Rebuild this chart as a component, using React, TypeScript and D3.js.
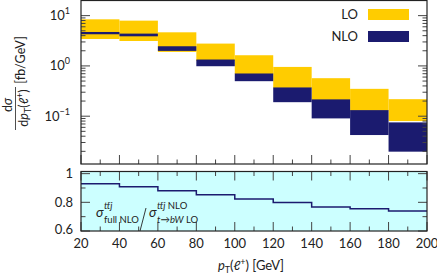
import React from 'react'
import * as d3 from 'd3'

// bin edges in pT (GeV)
const binEdges = [20, 40, 60, 80, 100, 120, 140, 160, 180, 200]
// LO band (upper / lower), fb/GeV
const loHigh = [8.45, 7.95, 4.66, 2.78, 1.63, 0.955, 0.57, 0.35, 0.218]
const loLow = [3.43, 3.13, 1.9, 1.25, 0.69, 0.365, 0.21, 0.128, 0.08]
// NLO band (upper / lower), fb/GeV
const nloHigh = [4.73, 4.39, 2.46, 1.34, 0.707, 0.373, 0.216, 0.132, 0.0753]
const nloLow = [4.26, 3.88, 1.99, 0.986, 0.497, 0.19, 0.0904, 0.0422, 0.0197]
// ratio in lower panel
const ratio = [0.93, 0.909, 0.881, 0.853, 0.823, 0.798, 0.768, 0.756, 0.74]

const xTicks = [20, 40, 60, 80, 100, 120, 140, 160, 180, 200]
const ratioTicks = [0.6, 0.8, 1]

const YELLOW = '#ffcc00'
const NAVY = '#1b1b6f'
const CYAN = '#ccffff'
const FONT = 'Lato, "DejaVu Sans", sans-serif'

export default function App() {
  const left = 81, right = 427
  const topY0 = 0.5, topY1 = 164
  const botY0 = 171.5, botY1 = 231

  const x = d3.scaleLinear().domain([20, 200]).range([left, right])
  const yTop = d3.scaleLog().domain([0.0112, 20]).range([topY1, topY0])
  const yBot = d3.scaleLinear().domain([0.6, 1.015]).range([botY1, botY0])

  // log ticks
  const logTicks: { v: number; major: boolean }[] = []
  for (let e = -2; e <= 1; e++) {
    for (let m = 1; m <= 9; m++) {
      const v = m * Math.pow(10, e)
      if (v >= 0.0112 && v <= 20) logTicks.push({ v, major: m === 1 })
    }
  }
  const xMinor = d3.range(30, 200, 20)

  const ratioPts = binEdges.map((e, i) => [e, ratio[Math.min(i, ratio.length - 1)]] as [number, number])
  const ratioLine = d3.line<[number, number]>()
    .x(d => x(d[0]))
    .y(d => yBot(d[1]))
    .curve(d3.curveStepAfter)

  const tickColor = '#444'

  return (
    <svg width={437} height={273} style={{ position: 'fixed', left: 0, top: 0 }} fontFamily={FONT}>
      <rect width={437} height={273} fill="#fff" />

      {/* upper panel: LO band then NLO band */}
      {loHigh.map((h, i) => (
        <rect key={'lo' + i} x={x(binEdges[i])} width={x(binEdges[i + 1]) - x(binEdges[i])}
          y={yTop(h)} height={yTop(loLow[i]) - yTop(h)} fill={YELLOW} />
      ))}
      {nloHigh.map((h, i) => (
        <rect key={'nlo' + i} x={x(binEdges[i])} width={x(binEdges[i + 1]) - x(binEdges[i])}
          y={yTop(h)} height={yTop(nloLow[i]) - yTop(h)} fill={NAVY} />
      ))}

      {/* log ticks left and right */}
      {logTicks.map((t, i) => {
        const y = yTop(t.v)
        const len = t.major ? 9 : 4.5
        return (
          <g key={'lt' + i} stroke={tickColor} strokeWidth={1}>
            <line x1={left} x2={left + len} y1={y} y2={y} />
            <line x1={right} x2={right - len} y1={y} y2={y} />
          </g>
        )
      })}
      {[1, 0, -1].map(e => (
        <text key={'ll' + e} x={70} y={yTop(Math.pow(10, e)) + 4.5} textAnchor="end" fontSize={13} fill="#222">
          10<tspan dy={-6} fontSize={9}>{e === -1 ? '\u22121' : e}</tspan>
        </text>
      ))}

      {/* x ticks on upper panel bottom */}
      {xTicks.map(v => (
        <line key={'xt' + v} x1={x(v)} x2={x(v)} y1={topY1} y2={topY1 - 9} stroke={tickColor} />
      ))}
      {xMinor.map(v => (
        <line key={'xm' + v} x1={x(v)} x2={x(v)} y1={topY1} y2={topY1 - 4.5} stroke={tickColor} />
      ))}

      <rect x={left} y={topY0} width={right - left} height={topY1 - topY0} fill="none" stroke="#222" strokeWidth={1.2} />

      {/* legend */}
      <text x={358} y={19} textAnchor="end" fontSize={13} fill="#222">LO</text>
      <rect x={368} y={9} width={41} height={11} fill={YELLOW} />
      <text x={358} y={40.5} textAnchor="end" fontSize={13} fill="#222">NLO</text>
      <rect x={368} y={31} width={41} height={11} fill={NAVY} />

      {/* y axis title */}
      <g transform="rotate(-90)" fill="#222">
        <text x={-105} y={12} textAnchor="middle" fontSize={12.5}>
          d<tspan fontStyle="italic">σ</tspan>
        </text>
        <line x1={-87} x2={-130} y1={15.5} y2={15.5} stroke="#222" strokeWidth={0.8} />
        <text x={-108} y={28} textAnchor="middle" fontSize={12.5}>
          d<tspan fontStyle="italic">p</tspan><tspan fontSize={9} dy={2.5}>T</tspan><tspan dy={-2.5}>(</tspan><tspan fontStyle="italic">ℓ</tspan><tspan fontSize={9} dy={-5}>+</tspan><tspan dy={5}>)</tspan>
        </text>
        <text x={-60} y={25} textAnchor="middle" fontSize={12.5}>[fb/GeV]</text>
      </g>

      {/* lower panel */}
      <rect x={left} y={botY0} width={right - left} height={botY1 - botY0} fill={CYAN} />
      <path d={ratioLine(ratioPts) || ''} fill="none" stroke={NAVY} strokeWidth={1.5} />

      {d3.range(0.6, 1.01, 0.1).map((v, i) => {
        const y = yBot(v)
        const len = i % 2 === 0 ? 9 : 4.5
        return (
          <g key={'rt' + i} stroke={tickColor}>
            <line x1={left} x2={left + len} y1={y} y2={y} />
            <line x1={right} x2={right - len} y1={y} y2={y} />
          </g>
        )
      })}
      {xTicks.map(v => (
        <g key={'bx' + v} stroke={tickColor}>
          <line x1={x(v)} x2={x(v)} y1={botY1} y2={botY1 - 9} />
          <line x1={x(v)} x2={x(v)} y1={botY0} y2={botY0 + 9} />
        </g>
      ))}
      {xMinor.map(v => (
        <g key={'bm' + v} stroke={tickColor}>
          <line x1={x(v)} x2={x(v)} y1={botY1} y2={botY1 - 4.5} />
          <line x1={x(v)} x2={x(v)} y1={botY0} y2={botY0 + 4.5} />
        </g>
      ))}
      <rect x={left} y={botY0} width={right - left} height={botY1 - botY0} fill="none" stroke="#222" strokeWidth={1.2} />

      {ratioTicks.map(v => (
        <text key={'rl' + v} x={73} y={Math.min(yBot(v) + 4.5, 233.5)} textAnchor="end" fontSize={13} fill="#222">
          {v === 1 ? '1' : d3.format('.1f')(v)}
        </text>
      ))}

      {/* ratio annotation */}
      <g fill="#222">
        <text x={96} y={217} fontSize={13.5} fontStyle="italic">σ</text>
        <text x={104} y={209} fontSize={9.5} fontStyle="italic">tt̄j</text>
        <text x={104} y={223} fontSize={9.5}>full NLO</text>
        <line x1={146} y1={208} x2={140} y2={231} stroke="#222" strokeWidth={0.9} />
        <text x={149} y={217} fontSize={13.5} fontStyle="italic">σ</text>
        <text x={157} y={209} fontSize={9.5}><tspan fontStyle="italic">tt̄j</tspan> NLO</text>
        <text x={157} y={223} fontSize={9.5}><tspan fontStyle="italic">t</tspan>→<tspan fontStyle="italic">bW</tspan> LO</text>
      </g>

      {/* x tick labels */}
      {xTicks.map(v => (
        <text key={'xl' + v} x={x(v)} y={248} textAnchor="middle" fontSize={13} fill="#222">{v}</text>
      ))}
      <text x={251} y={270} textAnchor="middle" fontSize={13} fill="#222">
        <tspan fontStyle="italic">p</tspan><tspan fontSize={9} dy={2.5}>T</tspan><tspan dy={-2.5}>(</tspan><tspan fontStyle="italic">ℓ</tspan><tspan fontSize={9} dy={-5}>+</tspan><tspan dy={5}>) [GeV]</tspan>
      </text>
    </svg>
  )
}
